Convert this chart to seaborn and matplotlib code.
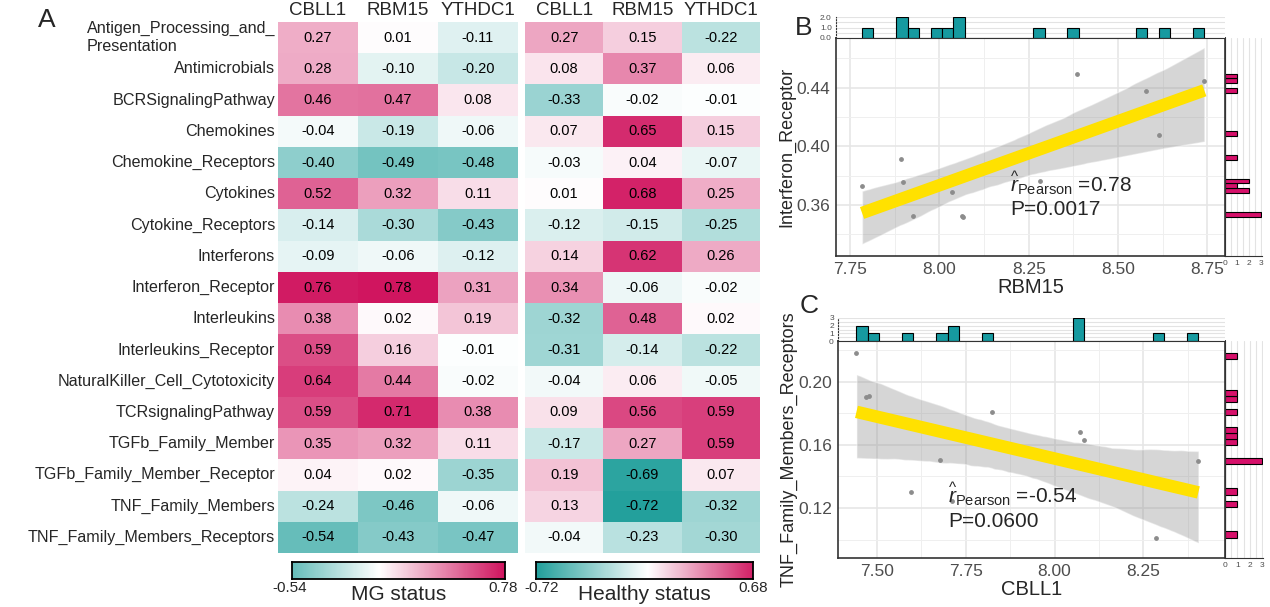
import numpy as np
import pandas as pd
import seaborn as sns
import matplotlib.pyplot as plt
from matplotlib.colors import LinearSegmentedColormap, Normalize
from matplotlib.collections import PolyCollection
from matplotlib.ticker import MultipleLocator

sns.set_style("white")
plt.rcParams['font.family'] = ['Liberation Sans', 'DejaVu Sans']
plt.rcParams['mathtext.fontset'] = 'custom'
plt.rcParams['mathtext.rm'] = 'Liberation Sans'
plt.rcParams['mathtext.it'] = 'Liberation Sans:italic'

# ---- data ----
pathways = ["Antigen_Processing_and_\nPresentation", "Antimicrobials", "BCRSignalingPathway",
            "Chemokines", "Chemokine_Receptors", "Cytokines", "Cytokine_Receptors",
            "Interferons", "Interferon_Receptor", "Interleukins", "Interleukins_Receptor",
            "NaturalKiller_Cell_Cytotoxicity", "TCRsignalingPathway", "TGFb_Family_Member",
            "TGFb_Family_Member_Receptor", "TNF_Family_Members", "TNF_Family_Members_Receptors"]
genes = ["CBLL1", "RBM15", "YTHDC1"]

mg_cbll1 = [0.27, 0.28, 0.46, -0.04, -0.40, 0.52, -0.14, -0.09, 0.76, 0.38, 0.59, 0.64, 0.59, 0.35, 0.04, -0.24, -0.54]
mg_rbm15 = [0.01, -0.10, 0.47, -0.19, -0.49, 0.32, -0.30, -0.06, 0.78, 0.02, 0.16, 0.44, 0.71, 0.32, 0.02, -0.46, -0.43]
mg_ythdc1 = [-0.11, -0.20, 0.08, -0.06, -0.48, 0.11, -0.43, -0.12, 0.31, 0.19, -0.01, -0.02, 0.38, 0.11, -0.35, -0.06, -0.47]

hc_cbll1 = [0.27, 0.08, -0.33, 0.07, -0.03, 0.01, -0.12, 0.14, 0.34, -0.32, -0.31, -0.04, 0.09, -0.17, 0.19, 0.13, -0.04]
hc_rbm15 = [0.15, 0.37, -0.02, 0.65, 0.04, 0.68, -0.15, 0.62, -0.06, 0.48, -0.14, 0.06, 0.56, 0.27, -0.69, -0.72, -0.23]
hc_ythdc1 = [-0.22, 0.06, -0.01, 0.15, -0.07, 0.25, -0.25, 0.26, -0.02, 0.02, -0.22, -0.05, 0.59, 0.59, 0.07, -0.32, -0.30]

b_rbm15 = [7.783, 7.893, 7.899, 7.926, 7.975, 8.035, 8.063, 8.066, 8.283, 8.386, 8.580, 8.615, 8.742]
b_ifn_rec = [0.3726, 0.3913, 0.3753, 0.3520, 0.3710, 0.3689, 0.3520, 0.3518, 0.3760, 0.4496, 0.4375, 0.4075, 0.4446]

c_cbll1 = [7.442, 7.468, 7.478, 7.596, 7.676, 7.711, 7.722, 7.824, 8.072, 8.080, 8.082, 8.285, 8.405]
c_tnf_rec = [0.2179, 0.1905, 0.1912, 0.1299, 0.1503, 0.1242, 0.1660, 0.1806, 0.1684, 0.1490, 0.1629, 0.1013, 0.1495]

mg = pd.DataFrame({"CBLL1": mg_cbll1, "RBM15": mg_rbm15, "YTHDC1": mg_ythdc1}, index=pathways)
hc = pd.DataFrame({"CBLL1": hc_cbll1, "RBM15": hc_rbm15, "YTHDC1": hc_ythdc1}, index=pathways)

W, H = 1270, 607
fig = plt.figure(figsize=(W / 100, H / 100), dpi=100)


def add_ax(x0, y0, x1, y1):
    return fig.add_axes([x0 / W, 1 - y1 / H, (x1 - x0) / W, (y1 - y0) / H])


def ftext(x, y, s, **kw):
    fig.text(x / W, 1 - y / H, s, **kw)


cmap = LinearSegmentedColormap.from_list("tw", ["#23A09C", "#FFFFFF", "#D0155F"])

# ---- heatmaps ----
axA1 = add_ax(278, 22, 518, 553)
axA2 = add_ax(525, 22, 760, 553)
for ax, df, ylab in [(axA1, mg, True), (axA2, hc, False)]:
    m = np.abs(df.values).max()
    sns.heatmap(df, ax=ax, cmap=cmap, vmin=-m, vmax=m, annot=True, fmt=".2f", cbar=False,
                annot_kws={"color": "black", "fontsize": 10.5},
                xticklabels=genes, yticklabels=ylab)
    ax.xaxis.tick_top()
    ax.tick_params(length=0, pad=2)
    ax.set_xticklabels(genes, fontsize=13.5)
    if ylab:
        ax.set_yticklabels(pathways, rotation=0, fontsize=11.6, multialignment="left")
    ax.set_xlabel("")
    ax.set_ylabel("")

# colorbars
for (x0, x1, df, name, lpos) in [(292, 505, mg, "MG status", (290, 503)),
                                 (536, 753, hc, "Healthy status", (542, 753))]:
    cax = add_ax(x0, 562, x1, 579)
    m = np.abs(df.values).max()
    lo, hi = df.values.min(), df.values.max()
    cax.imshow(np.linspace(lo, hi, 256)[None, :], cmap=cmap, norm=Normalize(-m, m),
               aspect="auto", extent=[lo, hi, 0, 1])
    cax.set_xticks([])
    cax.set_yticks([])
    for s in cax.spines.values():
        s.set_visible(True)
        s.set_color("black")
        s.set_linewidth(1.3)
    ftext(lpos[0], 588, f"{lo:.2f}", ha="center", va="center", fontsize=11)
    ftext(lpos[1], 588, f"{hi:.2f}", ha="center", va="center", fontsize=11)
    ftext((x0 + x1) / 2, 595, name, ha="center", va="center", fontsize=15)

ftext(38, 20, "A", fontsize=19, va="center", ha="left")
ftext(795, 28, "B", fontsize=19, va="center", ha="left")
ftext(800, 306, "C", fontsize=19, va="center", ha="left")


# ---- scatter panels ----
def scatter_panel(main_box, top_box, right_box, x, y, xlim, ylim, xt, yt, xlab, ylab,
                  top_ticks, top_labels, txt_pos, rtxt, ptxt):
    ax = add_ax(*main_box)
    axt = add_ax(*top_box)
    axr = add_ax(*right_box)

    sns.regplot(x=x, y=y, ax=ax, ci=95, color="black",
                scatter_kws={"s": 6, "color": "#8C8C8C", "alpha": 1, "zorder": 3},
                line_kws={"color": "#FFE100", "lw": 9, "zorder": 4, "solid_capstyle": "butt"})
    for coll in ax.collections:
        if isinstance(coll, PolyCollection):
            coll.set_facecolor("#999999")
            coll.set_alpha(0.4)
            coll.set_zorder(2)
    ax.set_xlim(*xlim)
    ax.set_ylim(*ylim)
    ax.set_xticks(xt)
    ax.set_xticklabels([f"{v:.2f}" for v in xt])
    ax.set_yticks(yt)
    ax.set_yticklabels([f"{v:.2f}" for v in yt])
    ax.xaxis.set_minor_locator(MultipleLocator(0.125))
    ax.yaxis.set_minor_locator(MultipleLocator(0.02))
    ax.grid(which="major", color="#E6E6E6", lw=1.2)
    ax.grid(which="minor", color="#EFEFEF", lw=0.7)
    ax.set_axisbelow(True)
    ax.tick_params(which="major", labelsize=12.5, labelcolor="#4D4D4D", length=3, color="#333333", pad=1)
    ax.tick_params(which="minor", length=0)
    for s in ax.spines.values():
        s.set_visible(True)
        s.set_color("#333333")
        s.set_linewidth(1.2)
    ax.set_xlabel(xlab, fontsize=14.5, labelpad=1)
    ax.set_ylabel(ylab, fontsize=13, labelpad=1)
    ax.text(txt_pos[0], txt_pos[1], rtxt, fontsize=15, ha="left", va="center", zorder=5)
    ax.text(txt_pos[0], txt_pos[2], ptxt, fontsize=15, ha="left", va="center", zorder=5)

    sns.histplot(x=x, bins=30, ax=axt, color="#169AA0", edgecolor="black", linewidth=0.8, alpha=1)
    axt.set_xlim(*xlim)
    axt.set_ylim(0, top_ticks[-1])
    axt.set_yticks(top_ticks)
    axt.set_yticklabels(top_labels)
    axt.yaxis.set_minor_locator(MultipleLocator(0.5))
    axt.set_xticks([])
    axt.grid(axis="y", which="both", color="#E3E3E3", lw=0.8)
    axt.set_axisbelow(True)
    axt.tick_params(axis="y", labelsize=6, labelcolor="#4D4D4D", length=2, pad=1)
    axt.tick_params(which="minor", length=0)
    axt.set_xlabel("")
    axt.set_ylabel("")
    for k, s in axt.spines.items():
        s.set_visible(k in ("left", "bottom"))
        s.set_color("#333333")
    axt.spines["left"].set_linestyle(":")

    sns.histplot(y=y, bins=30, ax=axr, color="#D6106A", edgecolor="black", linewidth=0.8, alpha=1)
    axr.set_ylim(*ylim)
    axr.set_xlim(0, 3.05)
    axr.set_xticks([0, 1, 2, 3])
    axr.xaxis.set_minor_locator(MultipleLocator(0.5))
    axr.set_yticks([])
    axr.grid(axis="x", which="both", color="#E3E3E3", lw=0.8)
    axr.set_axisbelow(True)
    axr.tick_params(axis="x", labelsize=6, labelcolor="#4D4D4D", length=2, pad=1)
    axr.tick_params(which="minor", length=0)
    axr.set_xlabel("")
    axr.set_ylabel("")
    for k, s in axr.spines.items():
        s.set_visible(k in ("left", "bottom"))
        s.set_color("#333333")


scatter_panel((836, 38, 1225, 256), (836, 17, 1225, 38), (1225, 38, 1262, 256),
              b_rbm15, b_ifn_rec, (7.71, 8.80), (0.325, 0.474),
              [7.75, 8.0, 8.25, 8.5, 8.75], [0.36, 0.40, 0.44], "RBM15", "Interferon_Receptor",
              [0, 1, 2], ["0.0", "1.0", "2.0"], (8.198, 0.375, 0.357),
              r"$\widehat{r}_{\mathrm{Pearson}}$ =0.78", "P=0.0017")

scatter_panel((838, 341, 1225, 558), (838, 318, 1225, 341), (1225, 341, 1263, 558),
              c_cbll1, c_tnf_rec, (7.39, 8.48), (0.0884, 0.2257),
              [7.5, 7.75, 8.0, 8.25], [0.12, 0.16, 0.20], "CBLL1", "TNF_Family_Members_Receptors",
              [0, 1, 2, 3], ["0", "1", "2", "3"], (7.70, 0.1284, 0.1114),
              r"$\widehat{r}_{\mathrm{Pearson}}$ =-0.54", "P=0.0600")

fig.savefig("out.png", dpi=100)
